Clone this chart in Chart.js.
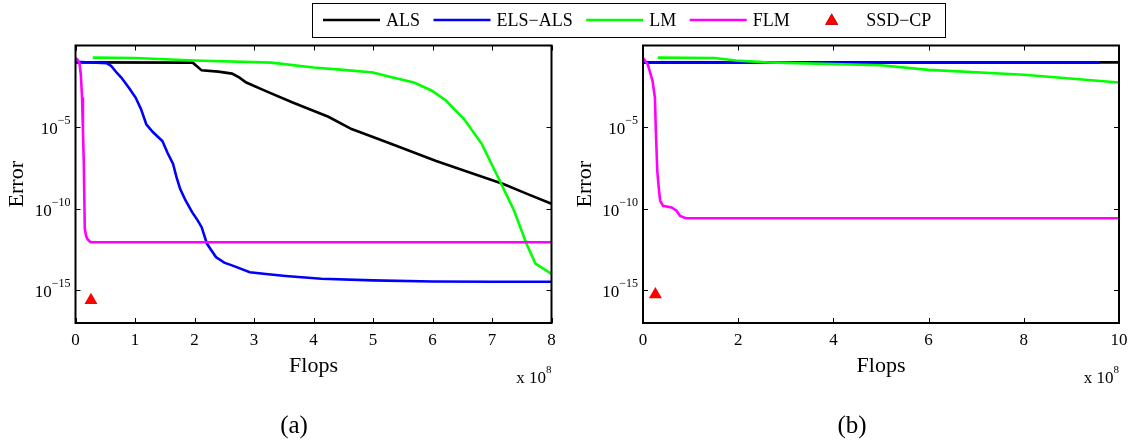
<!DOCTYPE html>
<html>
<head>
<meta charset="utf-8">
<title>Error vs Flops</title>
<script src="https://cdn.jsdelivr.net/npm/chart.js@4.4.0/dist/chart.umd.min.js"></script>
<style>
  body { margin: 0; background: #fff; }
  #wrap { position: relative; width: 1135px; height: 444px; }
  #wrap canvas { position: absolute; left: 0; top: 0; }
</style>
</head>
<body>
<div id="wrap">
  <canvas id="plot-a" width="1135" height="444"></canvas>
  <canvas id="plot-b" width="1135" height="444"></canvas>
</div>
<script>
const seriesNames = ['ALS', 'ELS\u2212ALS', 'LM', 'FLM', 'SSD\u2212CP'];
const seriesColors = ['#000000', '#0000ff', '#00ff00', '#ff00ff', '#ff0000'];

// ---- panel (a): flops in units of 1e8 ----
const alsFlopsA = [0, 1.97, 2.05, 2.12, 2.4, 2.63, 2.75, 2.87, 3.2, 3.65, 4.25, 4.64, 5.0, 5.39, 6.05, 6.6, 7.19, 7.6, 8.0];
const alsErrA = [9.3e-2, 8.9e-2, 5.0e-2, 3.0e-2, 2.5e-2, 1.9e-2, 1.1e-2, 5.4e-3, 1.6e-3, 3.2e-4, 4.3e-5, 7.6e-6, 2.5e-6, 7.2e-7, 8.7e-8, 1.8e-8, 3.3e-9, 7.9e-10, 2.0e-10];

const elsFlopsA = [0, 0.53, 0.6, 0.7, 0.77, 0.9, 1.01, 1.1, 1.19, 1.3, 1.46, 1.55, 1.64, 1.7, 1.76, 1.85, 1.96, 2.05, 2.12, 2.21, 2.36, 2.5, 2.63, 2.93, 3.2, 3.53, 4.13, 5.0, 6.0, 7.0, 8.0];
const elsErrA = [1.0e-1, 8.1e-2, 5.6e-2, 2.0e-2, 1.1e-2, 2.5e-3, 6.5e-4, 1.3e-4, 1.5e-5, 5.0e-6, 1.4e-6, 2.5e-7, 5.5e-8, 7.9e-9, 1.6e-9, 3.2e-10, 6.2e-11, 2.0e-11, 7.4e-12, 7.1e-13, 1.1e-13, 5.0e-14, 3.4e-14, 1.3e-14, 1.0e-14, 7.6e-15, 5.1e-15, 4.1e-15, 3.5e-15, 3.4e-15, 3.4e-15];

const lmFlopsA = [0.29, 1.0, 2.0, 3.29, 4.0, 4.5, 5.0, 5.33, 5.69, 5.99, 6.23, 6.53, 6.83, 7.13, 7.37, 7.58, 7.73, 8.0];
const lmErrA = [1.8e-1, 1.7e-1, 1.2e-1, 8.9e-2, 4.5e-2, 3.2e-2, 2.2e-2, 1.1e-2, 5.4e-3, 1.7e-3, 4.1e-4, 3.1e-5, 9.1e-7, 5.2e-9, 7.8e-11, 7.1e-13, 4.3e-14, 1.0e-14];

const flmFlopsA = [0, 0.03, 0.066, 0.09, 0.11, 0.125, 0.14, 0.156, 0.18, 0.2, 0.25, 8.0];
const flmErrA = [1.7e-1, 1.4e-1, 8.9e-2, 1.6e-2, 6.5e-4, 6.3e-6, 5.5e-8, 5.9e-12, 2.0e-12, 1.4e-12, 8.9e-13, 8.9e-13];

const ssdFlopsA = [0.26];
const ssdErrA = [2.5e-16];

// ---- panel (b) ----
const alsFlopsB = [0, 10];
const alsErrB = [9.3e-2, 9.3e-2];

const elsFlopsB = [0, 9.6];
const elsErrB = [8.9e-2, 8.9e-2];

const lmFlopsB = [0.31, 1.5, 1.95, 2.6, 5.0, 6.0, 8.0, 10.0];
const lmErrB = [1.8e-1, 1.7e-1, 1.2e-1, 9.3e-2, 6.2e-2, 3.2e-2, 1.6e-2, 5.4e-3];

const flmFlopsB = [0, 0.1, 0.2, 0.25, 0.27, 0.3, 0.33, 0.36, 0.42, 0.6, 0.7, 0.78, 0.9, 10];
const flmErrB = [1.7e-1, 7.1e-2, 6.8e-3, 6.5e-4, 6.0e-6, 2.1e-8, 2.0e-9, 3.2e-10, 1.5e-10, 1.2e-10, 7.8e-11, 3.6e-11, 2.6e-11, 2.6e-11];

const ssdFlopsB = [0.26];
const ssdErrB = [5.5e-16];

// ticks
const xTicksA = [0, 1, 2, 3, 4, 5, 6, 7, 8];
const xTicksB = [0, 2, 4, 6, 8, 10];
const yTicks = [1e-15, 1e-10, 1e-5];
const yRange = [1e-17, 1];

const SERIF = '"Liberation Serif", "Times New Roman", serif';

function pts(xs, ys) {
    return xs.map((x, i) => ({ x: x, y: ys[i] }));
}

function buildDatasets(series) {
    return series.map((s, i) => {
        const isMarker = i === 4;
        return {
            label: seriesNames[i],
            data: pts(s[0], s[1]),
            borderColor: seriesColors[i],
            backgroundColor: seriesColors[i],
            borderWidth: isMarker ? 0 : 2.6,
            showLine: !isMarker,
            pointRadius: isMarker ? 7.5 : 0,
            pointStyle: isMarker ? 'triangle' : 'circle',
            tension: 0,
            // later series are painted over earlier ones
            order: series.length - i
        };
    });
}

// MATLAB-style box, inward ticks, labels and the shared legend
const axesFrame = {
    id: 'axesFrame',
    afterDraw(chart, args, opts) {
        const { ctx, chartArea: a } = chart;
        const xs = chart.scales.x, ys = chart.scales.y;
        ctx.save();

        // ticks on all four sides
        ctx.strokeStyle = '#000';
        ctx.lineWidth = 1;
        ctx.beginPath();
        opts.xTicks.forEach(v => {
            const px = Math.round(xs.getPixelForValue(v)) + 0.5;
            ctx.moveTo(px, a.bottom); ctx.lineTo(px, a.bottom - 5);
            ctx.moveTo(px, a.top); ctx.lineTo(px, a.top + 5);
        });
        yTicks.forEach(v => {
            const py = Math.round(ys.getPixelForValue(v)) + 0.5;
            ctx.moveTo(a.left, py); ctx.lineTo(a.left + 5, py);
            ctx.moveTo(a.right, py); ctx.lineTo(a.right - 5, py);
        });
        ctx.stroke();
        ctx.lineWidth = 2;
        ctx.strokeRect(a.left, a.top, a.width, a.height);

        ctx.fillStyle = '#000';
        // x tick labels
        ctx.font = '17px ' + SERIF;
        ctx.textAlign = 'center';
        ctx.textBaseline = 'middle';
        opts.xTicks.forEach(v => {
            ctx.fillText(String(v), xs.getPixelForValue(v), a.bottom + 18);
        });

        // y tick labels as 10 with a raised exponent
        ctx.textAlign = 'left';
        ctx.textBaseline = 'alphabetic';
        yTicks.forEach(v => {
            const py = ys.getPixelForValue(v);
            const exp = '\u2212' + Math.round(-Math.log10(v));
            ctx.font = '12px ' + SERIF;
            const ew = ctx.measureText(exp).width;
            const right = a.left - 5;
            ctx.fillText(exp, right - ew, py - 3);
            ctx.font = '17px ' + SERIF;
            const bw = ctx.measureText('10').width;
            ctx.fillText('10', right - ew - bw, py + 7);
        });

        // axis titles
        ctx.font = '22px ' + SERIF;
        ctx.textAlign = 'center';
        ctx.textBaseline = 'middle';
        ctx.fillText('Flops', (a.left + a.right) / 2, a.bottom + 43);
        ctx.save();
        ctx.translate(a.left - 58, (a.top + a.bottom) / 2);
        ctx.rotate(-Math.PI / 2);
        ctx.fillText('Error', 0, 0);
        ctx.restore();

        // x 10^8 multiplier
        ctx.textAlign = 'right';
        ctx.textBaseline = 'alphabetic';
        ctx.font = '11px ' + SERIF;
        const sw = ctx.measureText('8').width;
        ctx.fillText('8', a.right, a.bottom + 50);
        ctx.font = '17px ' + SERIF;
        ctx.fillText('x 10', a.right - sw, a.bottom + 60);

        // panel tag
        ctx.font = '25px ' + SERIF;
        ctx.textAlign = 'center';
        ctx.textBaseline = 'middle';
        ctx.fillText(opts.tag, (a.left + a.right) / 2 + opts.tagShift, 426);

        if (opts.legend) drawLegend(chart);
        ctx.restore();
    }
};

function drawLegend(chart) {
    const ctx = chart.ctx;
    const box = { left: 312, right: 945, top: 3, bottom: 37 };
    const cy = (box.top + box.bottom) / 2;
    ctx.fillStyle = '#fff';
    ctx.fillRect(box.left, box.top, box.right - box.left, box.bottom - box.top);
    ctx.strokeStyle = '#000';
    ctx.lineWidth = 1;
    ctx.strokeRect(box.left + 0.5, box.top + 0.5, box.right - box.left, box.bottom - box.top);

    ctx.font = '18px ' + SERIF;
    ctx.textAlign = 'left';
    ctx.textBaseline = 'middle';
    let x = box.left + 11;
    chart.data.datasets.forEach(ds => {
        if (ds.showLine) {
            ctx.strokeStyle = ds.borderColor;
            ctx.lineWidth = ds.borderWidth;
            ctx.beginPath();
            ctx.moveTo(x, cy);
            ctx.lineTo(x + 57, cy);
            ctx.stroke();
        } else {
            Chart.helpers.drawPoint(ctx, {
                pointStyle: 'triangle', radius: 7.5, borderWidth: 0, rotation: 0
            }, x + 28.5, cy + 1);
            ctx.fillStyle = ds.backgroundColor;
            ctx.fill();
        }
        ctx.fillStyle = '#000';
        ctx.fillText(ds.label, x + 63, cy + 1);
        x += 63 + ctx.measureText(ds.label).width + 13.5;
    });
}

function makePanel(id, series, xMax, xTicks, tag, tagShift, pad, legend) {
    return new Chart(document.getElementById(id), {
        type: 'line',
        data: { datasets: buildDatasets(series) },
        options: {
            responsive: false,
            animation: false,
            events: [],
            layout: { padding: pad },
            scales: {
                x: { type: 'linear', min: 0, max: xMax, display: false },
                y: { type: 'logarithmic', min: yRange[0], max: yRange[1], display: false }
            },
            plugins: {
                legend: { display: false },
                tooltip: { enabled: false },
                axesFrame: { xTicks: xTicks, tag: tag, tagShift: tagShift, legend: legend }
            }
        },
        plugins: [axesFrame]
    });
}

makePanel('plot-a', [
    [alsFlopsA, alsErrA], [elsFlopsA, elsErrA], [lmFlopsA, lmErrA],
    [flmFlopsA, flmErrA], [ssdFlopsA, ssdErrA]
], 8, xTicksA, '(a)', -19.5, { left: 75.5, top: 45.5, right: 1135 - 551.5, bottom: 444 - 323 }, true);

makePanel('plot-b', [
    [alsFlopsB, alsErrB], [elsFlopsB, elsErrB], [lmFlopsB, lmErrB],
    [flmFlopsB, flmErrB], [ssdFlopsB, ssdErrB]
], 10, xTicksB, '(b)', -29, { left: 643, top: 45.5, right: 1135 - 1119, bottom: 444 - 323 }, false);
</script>
</body>
</html>
